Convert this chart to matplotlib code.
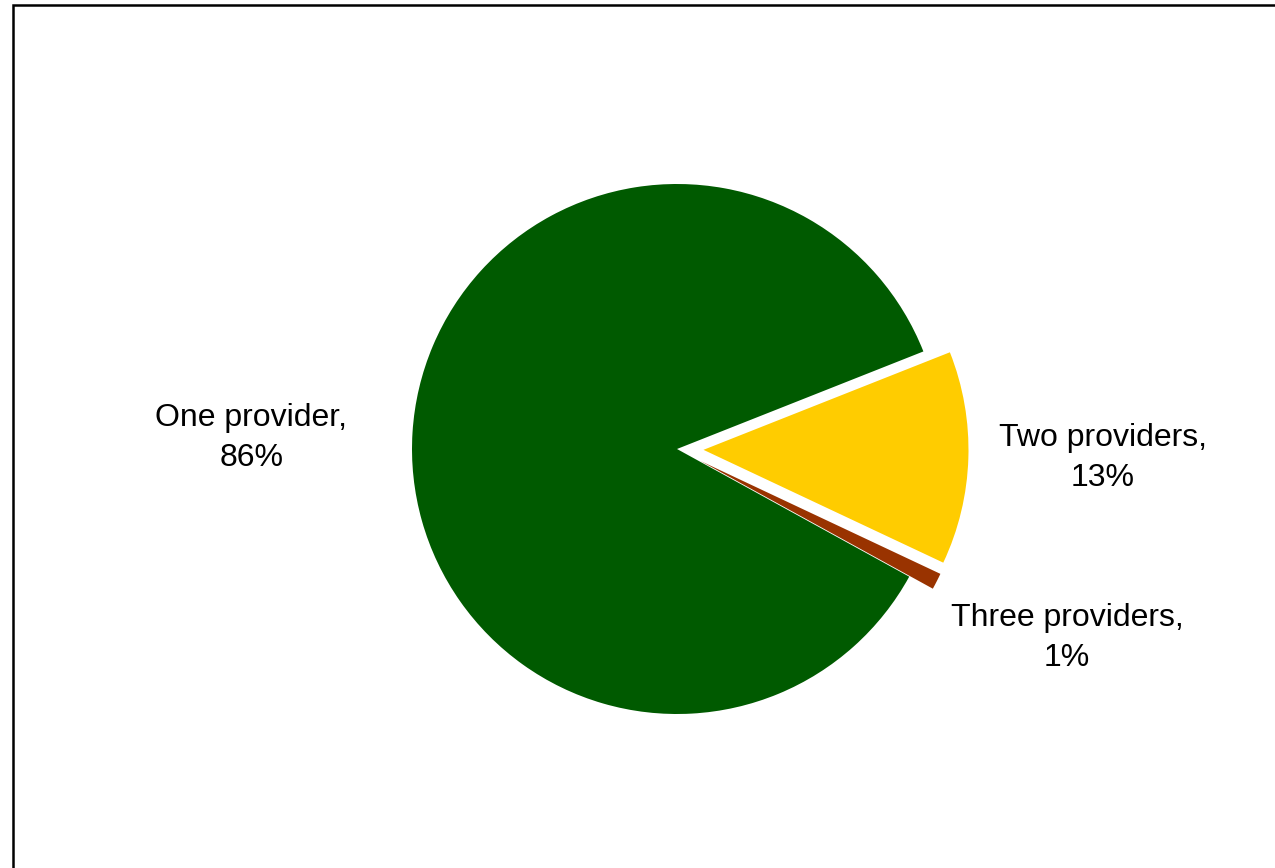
import matplotlib
matplotlib.use("Agg")
import matplotlib.pyplot as plt
from matplotlib.patches import Rectangle

# Share of respondents by number of providers
labels = ["One provider", "Two providers", "Three providers"]
shares = [86, 13, 1]
colors = ["#005a00", "#ffcc00", "#993300"]
explode = [0.0, 0.1, 0.1]

# label anchor points (pie radius units)
label_xy = [(-1.606, 0.042), (1.608, -0.034), (1.472, -0.713)]

W, H, DPI = 1275, 868, 100
cx, cy, R = 677, 449, 265  # pie centre and radius in pixels

plt.rcParams["font.family"] = ["Liberation Sans", "DejaVu Sans"]

fig = plt.figure(figsize=(W / DPI, H / DPI), dpi=DPI)
fig.patch.set_facecolor("white")
ax = fig.add_axes([0, 0, 1, 1])

wedges, _ = ax.pie(
    shares, colors=colors, explode=explode, startangle=-28.8,
    counterclock=False, wedgeprops={"linewidth": 0},
)

for name, val, (x, y) in zip(labels, shares, label_xy):
    ax.text(x, y, f"{name},\n{val}%", ha="center", va="center",
            fontsize=23, color="black", linespacing=1.42)

ax.set_aspect("auto")
ax.set_xlim(-cx / R, (W - cx) / R)
ax.set_ylim(-(H - cy) / R, cy / R)
ax.axis("off")

# outer chart border (runs off the right and bottom edges)
fig.patches.append(Rectangle(
    (12.5 / W, -0.1), 1.2, 1.1 - 5.5 / H, transform=fig.transFigure,
    fill=False, edgecolor="black", linewidth=1.8,
))

fig.savefig("out.png", dpi=DPI, facecolor="white")
